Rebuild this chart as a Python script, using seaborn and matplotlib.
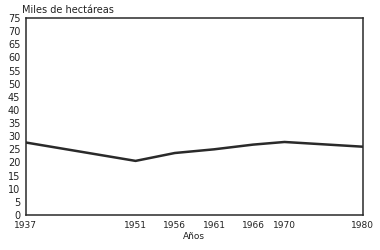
import matplotlib
matplotlib.use("Agg")
import matplotlib.pyplot as plt
import seaborn as sns
import pandas as pd
from matplotlib.ticker import MultipleLocator

years = [1937, 1951, 1956, 1961, 1966, 1970, 1980]
hectareas = [27.6, 20.6, 23.6, 25.0, 26.8, 27.8, 26.0]
xtick_labels = ["1937", "1951", "1956", "1961", "1966", "1970", "1980"]
yticks = list(range(0, 80, 5))

sns.set_style("white")
plt.rcParams["font.family"] = ["DejaVu Sans"]

df = pd.DataFrame({"year": years, "value": hectareas})

fig = plt.figure(figsize=(3.8, 2.5), dpi=100)
ax = fig.add_axes([0.068, 0.14, 0.887, 0.788])
sns.lineplot(data=df, x="year", y="value", ax=ax, color="#2a2a2a", linewidth=1.8)

ax.set_xlim(1937, 1980)
ax.set_ylim(0, 75)
ax.set_xticks(years)
ax.set_xticklabels(xtick_labels, fontsize=6.5)
ax.xaxis.set_minor_locator(MultipleLocator(1))
ax.set_yticks(yticks)
ax.set_yticklabels([str(v) for v in yticks], fontsize=7)
ax.tick_params(axis="x", which="major", direction="in", length=4, width=0.9, color="#2a2a2a", pad=4, labelcolor="#222")
ax.tick_params(axis="x", which="minor", direction="in", length=3.5, width=0.9, color="#2a2a2a")
ax.tick_params(axis="y", direction="out", length=3, width=0.9, color="#2a2a2a", pad=1, labelcolor="#222")
for s in ax.spines.values():
    s.set_color("#2a2a2a")
    s.set_linewidth(1.1)
ax.set_xlabel("Años", fontsize=6.5, labelpad=2, color="#222")
ax.set_ylabel("")
ax.text(-0.01, 1.015, "Miles de hectáreas", transform=ax.transAxes, fontsize=7, ha="left", va="bottom", color="#222")

fig.savefig("out.png", dpi=100, facecolor="white")
